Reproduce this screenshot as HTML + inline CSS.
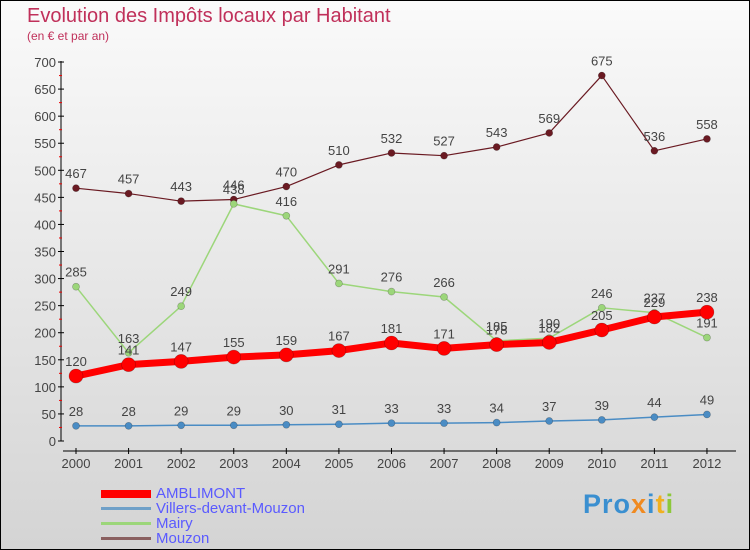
<!DOCTYPE html>
<html><head><meta charset="utf-8"><style>
body{margin:0}
#c{width:748px;height:548px;border:1px solid #000;position:relative;background:linear-gradient(#fafafa,#d4d4d4);font-family:"Liberation Sans",sans-serif;overflow:hidden}
.t{position:absolute;color:#c0305a;white-space:nowrap}
.lg{position:absolute;font-size:15px;line-height:15px;color:#5a5aff;white-space:nowrap}
.sw{position:absolute;left:70px;width:50px}
</style></head><body>
<div id="c">
<div class="t" style="left:26px;top:4px;font-size:20px">Evolution des Impôts locaux par Habitant</div>
<div class="t" style="left:26px;top:28px;font-size:12px">(en € et par an)</div>
<svg id="s" width="748" height="480" style="position:absolute;left:0;top:0"></svg>
<div style="position:absolute;left:30px;top:484px">
<div class="sw" style="top:5px;height:8px;background:#f00"></div><div class="lg" style="left:125px;top:1px">AMBLIMONT</div>
<div class="sw" style="top:22px;height:3px;background:#6fa0c8"></div><div class="lg" style="left:125px;top:16px">Villers-devant-Mouzon</div>
<div class="sw" style="top:37px;height:3px;background:#9cd67a"></div><div class="lg" style="left:125px;top:31px">Mairy</div>
<div class="sw" style="top:52px;height:3px;background:#8a6060"></div><div class="lg" style="left:125px;top:46px">Mouzon</div>
</div>
<div style="position:absolute;left:582px;top:488px;font-size:27px;font-weight:bold;letter-spacing:1px"><span style="color:#3a8fd0">Pro</span><span style="color:#f08a20">x</span><span style="color:#3a8fd0">i</span><span style="color:#f0b020">t</span><span style="color:#8cc83a">i</span></div>
</div>
<script>
const years=[2000,2001,2002,2003,2004,2005,2006,2007,2008,2009,2010,2011,2012];
const amblimont=[120,141,147,155,159,167,181,171,178,182,205,229,238];
const villers=[28,28,29,29,30,31,33,33,34,37,39,44,49];
const mairy=[285,163,249,438,416,291,276,266,185,190,246,237,191];
const mouzon=[467,457,443,446,470,510,532,527,543,569,675,536,558];
const yTicks=[0,50,100,150,200,250,300,350,400,450,500,550,600,650,700];
const s=document.getElementById('s');const NS='http://www.w3.org/2000/svg';
const X=i=>75+i*52.58, Y=v=>440-v*0.5414;
function el(t,a,p){const e=document.createElementNS(NS,t);for(const k in a)e.setAttribute(k,a[k]);(p||s).appendChild(e);return e;}
let ax=el('line',{x1:60,y1:60,x2:60,y2:440,stroke:'#000'});

let xa=el('line',{x1:62,y1:450,x2:735,y2:450,stroke:'#000'});

yTicks.forEach(v=>{el('line',{x1:57,x2:63,y1:Y(v),y2:Y(v),stroke:'#000'});
 if(v<700)el('line',{x1:58,x2:61,y1:Y(v+25),y2:Y(v+25),stroke:'#e00'});
 const t=el('text',{x:55,y:Y(v)+5,'text-anchor':'end','font-size':13,fill:'#444','font-family':'Liberation Sans'});t.textContent=v;
 });
years.forEach((y,i)=>{el('line',{x1:X(i),x2:X(i),y1:447,y2:453,stroke:'#000'});
 const t=el('text',{x:X(i),y:467,'text-anchor':'middle','font-size':13,fill:'#444','font-family':'Liberation Sans'});t.textContent=y;
 });
function series(d,col,w,r,name){
 const g=el('g',{});
 el('polyline',{points:d.map((v,i)=>X(i)+','+Y(v)).join(' '),fill:'none',stroke:col,'stroke-width':w,'stroke-linejoin':'round'},g);
 d.forEach((v,i)=>{const c=el('circle',{cx:X(i),cy:Y(v),r:r,fill:col,stroke:'rgba(0,0,0,0.3)','stroke-width':0.6},g);
  
  const t=el('text',{x:X(i),y:Y(v)-10,'text-anchor':'middle','font-size':13,fill:'#444','font-family':'Liberation Sans'},g);t.textContent=v;});
}
series(mouzon,'#6a1a22',1.2,3.5,'mouzon');
series(mairy,'#9cd67a',1.5,3.5,'mairy');
series(villers,'#4a8cc4',1.5,3.5,'villers');
series(amblimont,'#f00',7,7,'amblimont');
</script>
</body></html>
